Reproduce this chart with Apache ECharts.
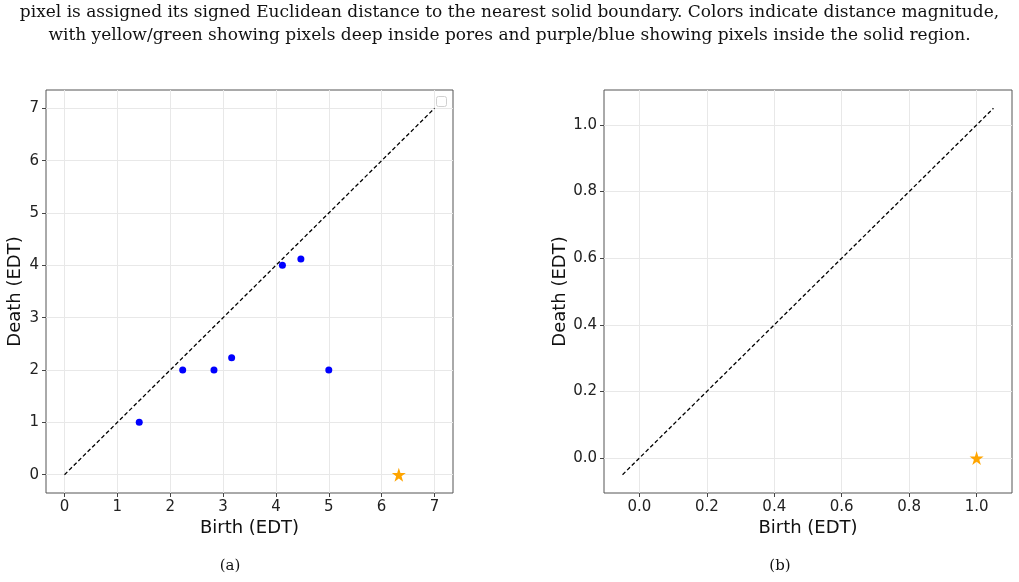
<!DOCTYPE html>
<html>
<head>
<meta charset="utf-8">
<script src="https://cdn.jsdelivr.net/npm/echarts@6.0.0/dist/echarts.min.js"></script>
<style>
  html, body { margin: 0; padding: 0; background: #fff; }
  #chart { width: 1019px; height: 582px; }
</style>
</head>
<body>
<div id="chart"></div>
<script>
// persistence diagram (a): finite H0 pairs
const birthA = [1.414, 2.236, 2.828, 3.162, 4.123, 4.472, 5.0];
const deathA = [1, 2, 2, 2.236, 4, 4.123, 2];
// essential class, plotted as star
const essBirthA = [6.325];
const essDeathA = [0];
const diagA = [0, 7];
const ticksA = [0, 1, 2, 3, 4, 5, 6, 7];

// persistence diagram (b)
const essBirthB = [1.0];
const essDeathB = [0];
const diagB = [-0.05, 1.05];
const ticksB = [0, 0.2, 0.4, 0.6, 0.8, 1.0];

const captionLines = [
	'pixel is assigned its signed Euclidean distance to the nearest solid boundary. Colors indicate distance magnitude,',
	'with yellow/green showing pixels deep inside pores and purple/blue showing pixels inside the solid region.'
];

const STAR = 'path://M50 0 L61.23 34.55 L97.55 34.55 L68.17 55.9 L79.39 90.45 L50 69.1 L20.61 90.45 L31.83 55.9 L2.45 34.55 L38.77 34.55 Z';

const font = 'DejaVu Sans';
const serif = 'DejaVu Serif';

function axis(idx, min, max, ticks, name, gap, fmt, rotate) {
	return {
		type: 'value',
		gridIndex: idx,
		min: min,
		max: max,
		name: name,
		nameLocation: 'middle',
		nameGap: gap,
		nameRotate: rotate,
		nameMoveOverlap: false,
		nameTextStyle: { fontFamily: font, fontSize: 18, color: '#111' },
		axisLine: { show: false, onZero: false },
		axisTick: { show: true, length: 4, customValues: ticks, lineStyle: { color: '#444', width: 1 } },
		axisLabel: {
			fontFamily: font, fontSize: 15, color: '#222', margin: 7,
			customValues: ticks,
			formatter: fmt
		},
		splitLine: { show: true, customValues: ticks, lineStyle: { color: '#e8e8e8', width: 1 } }
	};
}

function zip(xs, ys) {
	return xs.map((x, i) => [x, ys[i]]);
}

const chart = echarts.init(document.getElementById('chart'), null, { renderer: 'canvas' });

const option = {
	animation: false,
	backgroundColor: '#fff',
	grid: [
		{ left: 46, top: 90, width: 407, height: 403, show: true, borderColor: '#555', borderWidth: 1, backgroundColor: 'transparent' },
		{ left: 604, top: 90, width: 408, height: 403, show: true, borderColor: '#555', borderWidth: 1, backgroundColor: 'transparent' }
	],
	xAxis: [
		axis(0, -0.35, 7.35, ticksA, 'Birth (EDT)', 26, v => String(v), 0),
		axis(1, -0.105, 1.105, ticksB, 'Birth (EDT)', 26, v => v.toFixed(1), 0)
	],
	yAxis: [
		axis(0, -0.35, 7.35, ticksA, 'Death (EDT)', 22, v => String(v), 90),
		axis(1, -0.105, 1.105, ticksB, 'Death (EDT)', 35, v => v.toFixed(1), 90)
	],
	series: [
		{
			type: 'line', xAxisIndex: 0, yAxisIndex: 0,
			data: zip(diagA, diagA), symbol: 'none', silent: true,
			lineStyle: { color: '#000', width: 1.3, type: [4, 2.5] }, z: 2
		},
		{
			type: 'scatter', xAxisIndex: 0, yAxisIndex: 0,
			data: zip(birthA, deathA), symbol: 'circle', symbolSize: 7,
			itemStyle: { color: '#0000ff', opacity: 1 }, z: 3
		},
		{
			type: 'scatter', xAxisIndex: 0, yAxisIndex: 0,
			data: zip(essBirthA, essDeathA), symbol: STAR, symbolSize: 14,
			itemStyle: { color: '#ffa500', opacity: 1 }, z: 3
		},
		{
			type: 'line', xAxisIndex: 1, yAxisIndex: 1,
			data: zip(diagB, diagB), symbol: 'none', silent: true,
			lineStyle: { color: '#000', width: 1.3, type: [4, 2.5] }, z: 2
		},
		{
			type: 'scatter', xAxisIndex: 1, yAxisIndex: 1,
			data: zip(essBirthB, essDeathB), symbol: STAR, symbolSize: 14,
			itemStyle: { color: '#ffa500', opacity: 1 }, z: 3
		}
	],
	graphic: [
		{
			type: 'text', left: 'center', top: 4,
			style: { text: captionLines[0], font: '17px "' + serif + '"', fill: '#111' }
		},
		{
			type: 'text', left: 'center', top: 27,
			style: { text: captionLines[1], font: '17px "' + serif + '"', fill: '#111' }
		},
		{
			type: 'text', x: 230, y: 566,
			style: { text: '(a)', font: '15px "' + serif + '"', fill: '#111', align: 'center', verticalAlign: 'middle' }
		},
		{
			type: 'text', x: 780, y: 566,
			style: { text: '(b)', font: '15px "' + serif + '"', fill: '#111', align: 'center', verticalAlign: 'middle' }
		},
		// empty legend frame in the corner of (a)
		{
			type: 'rect', shape: { x: 436.5, y: 96.5, width: 10, height: 10, r: 2 },
			style: { fill: '#fff', stroke: '#d0d0d0', lineWidth: 1 }, z: 10
		}
	]
};

chart.setOption(option);
</script>
</body>
</html>
